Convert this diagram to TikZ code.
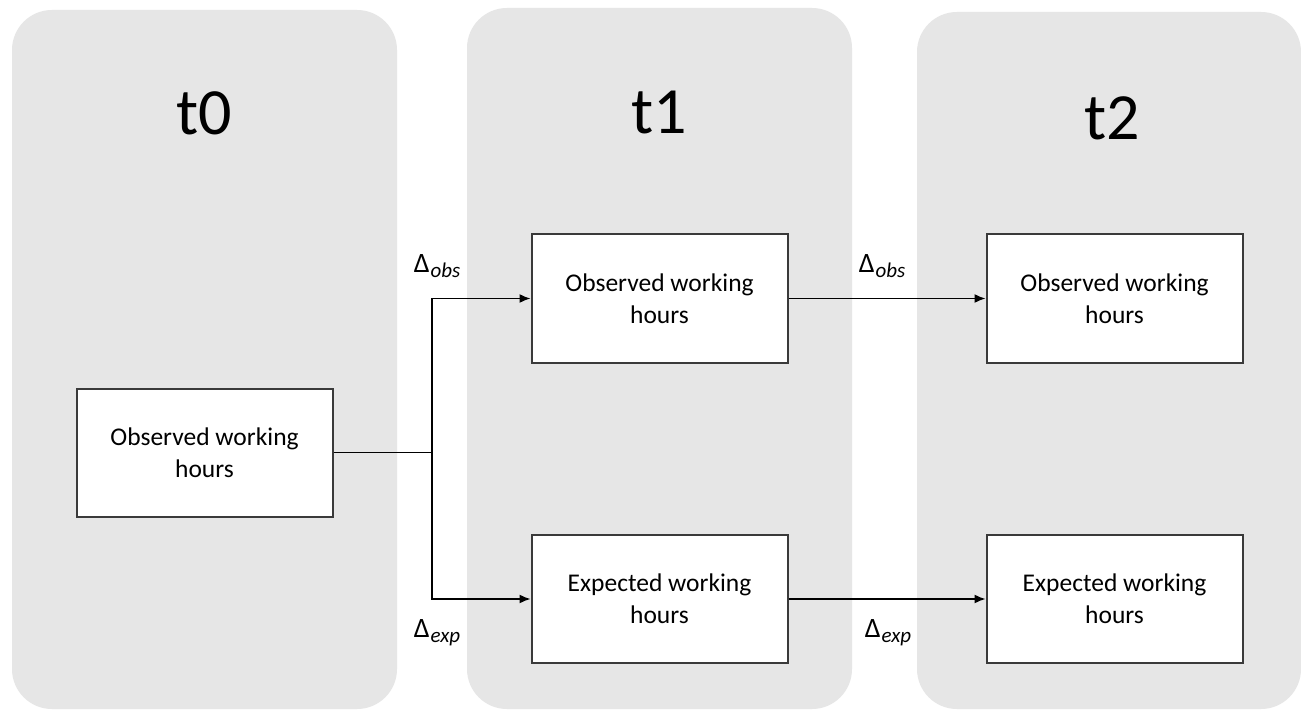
\documentclass[tikz,border=0pt]{standalone}
\usepackage{fontspec}
\setmainfont{Carlito}
\usetikzlibrary{arrows.meta}
\definecolor{panelgray}{HTML}{E6E6E6}
\definecolor{boxline}{HTML}{3A3A3A}
\newcommand{\dlabel}[1]{{\fontsize{28}{30}\selectfont Δ}\kern1pt\raisebox{-5pt}{\fontsize{21}{22}\selectfont\itshape #1}}
\begin{document}
\begin{tikzpicture}[x=1pt,y=-1pt,
  panel/.style={fill=panelgray,draw=none,rounded corners=40pt},
  title/.style={font=\fontsize{66}{70}\selectfont},
  wbox/.style={draw=boxline,line width=2pt,fill=white,minimum width=256pt,minimum height=128pt,align=center,inner sep=0pt,font=\fontsize{25.5}{32}\selectfont},
  conn/.style={line width=1.5pt,black},
  arr/.style={conn,-{Latex[length=11pt,width=9pt]}},
  dlab/.style={inner sep=0pt}]
\useasboundingbox (0,0) rectangle (1301,711);
\fill[white] (0,0) rectangle (1301,711);
% panels
\path[panel] (12,10) rectangle (397,709);
\path[panel] (467,8) rectangle (852,709);
\path[panel] (917,12) rectangle (1301,709);
% titles
\node[title] (T0) at (204,113) {t0};
\node[title] (T1) at (659,113) {t1};
\node[title] (T2) at (1112,118) {t2};
% boxes
\node[wbox] (b0) at (204.5,452.5) {Observed working\\hours};
\node[wbox] (o1) at (659.5,298.5) {Observed working\\hours};
\node[wbox] (e1) at (659.5,599) {Expected working\\hours};
\node[wbox] (o2) at (1114.5,298.5) {Observed working\\hours};
\node[wbox] (e2) at (1114.5,599) {Expected working\\hours};
% connectors
\coordinate (split) at (432,452.5);
\draw[conn] (b0.east) -- (split);
\draw[arr] (split) |- (o1.west);
\draw[arr] (split) |- (e1.west);
\draw[arr] (o1.east) -- (o2.west);
\draw[arr] (e1.east) -- (e2.west);
% labels
\node[dlab] (l1) at (437,266) {\dlabel{obs}};
\node[dlab] (l2) at (882,266) {\dlabel{obs}};
\node[dlab] (l3) at (437,633) {\dlabel{exp}};
\node[dlab] (l4) at (888,633) {\dlabel{exp}};
\end{tikzpicture}
\end{document}
